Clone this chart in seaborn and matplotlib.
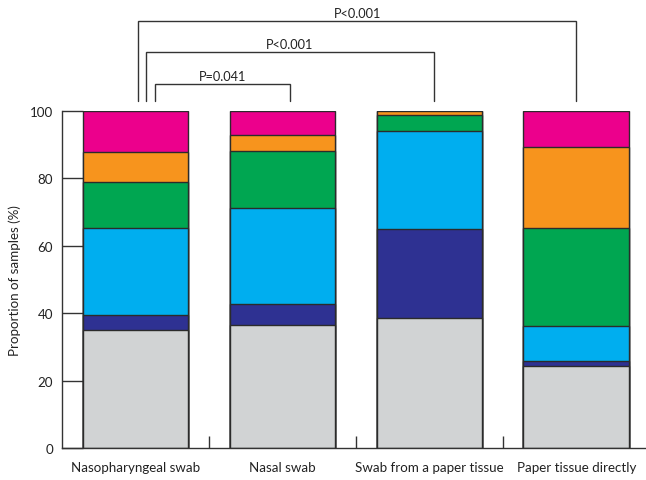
import numpy as np
import pandas as pd
import matplotlib
matplotlib.use("Agg")
import matplotlib.pyplot as plt
import seaborn as sns

# Sampling methods and the share (%) of samples in each result class
categories = ["Nasopharyngeal swab", "Nasal swab", "Swab from a paper tissue", "Paper tissue directly"]
gray_pct = [35.0, 36.5, 38.6, 24.2]
navy_pct = [4.4, 6.1, 26.3, 1.6]
blue_pct = [25.7, 28.7, 29.1, 10.5]
green_pct = [13.7, 16.8, 4.6, 29.0]
orange_pct = [9.1, 4.6, 1.4, 24.0]
pink_pct = [12.1, 7.3, 0.0, 10.7]

layer_names = ["gray", "navy", "blue", "green", "orange", "pink"]
layer_colors = ["#D1D3D4", "#2E3192", "#00AEEF", "#00A651", "#F7941D", "#EC008C"]
yticks = [0, 20, 40, 60, 80, 100]

# Pairwise comparisons: (left bar, right bar, label)
comparisons = [
    (0, 1, "P=0.041"),
    (0, 2, "P<0.001"),
    (0, 3, "P<0.001"),
]

sns.set_theme(style="white")
plt.rcParams["font.family"] = ["Lato", "DejaVu Sans"]

layers = np.array([gray_pct, navy_pct, blue_pct, green_pct, orange_pct, pink_pct])
tops = np.cumsum(layers, axis=0)

fig = plt.figure(figsize=(6.46, 4.81), dpi=100)
ax = fig.add_axes([0.096, 0.0665, 0.91, 0.7013])

edge = "#2b2b2b"
# Stack by overdrawing cumulative totals from the top layer downward
for i in range(len(layer_names) - 1, -1, -1):
    df = pd.DataFrame({"method": categories, "top": tops[i]})
    sns.barplot(data=df, x="method", y="top", color=layer_colors[i], saturation=1,
                width=0.72, edgecolor=edge, linewidth=1.0, ax=ax, zorder=2 + (5 - i) * 0.01)

ax.set_xlim(-0.5, 3.5)
ax.set_ylim(0, 100)
ax.set_xlabel("")
ax.set_ylabel("Proportion of samples (%)", fontsize=9.6, color="#222222", labelpad=6)

ax.set_yticks(yticks)
ax.set_yticklabels([str(v) for v in yticks], fontsize=9.6, color="#222222")
ax.tick_params(axis="y", direction="in", length=15, width=1.0, color="#333333", pad=6.5, left=True)

ax.set_xticks(range(len(categories)))
ax.set_xticklabels(categories, fontsize=9.6, color="#222222")
ax.tick_params(axis="x", which="major", length=0, pad=9)
ax.set_xticks([0.5, 1.5, 2.5], minor=True)
ax.tick_params(axis="x", which="minor", direction="in", length=9, width=1.0, color="#333333", bottom=True)

for side in ["top", "right"]:
    ax.spines[side].set_visible(False)
for side in ["left", "bottom"]:
    ax.spines[side].set_visible(True)
    ax.spines[side].set_color("#333333")
    ax.spines[side].set_linewidth(1.0)

# Significance brackets above the bars
bracket_specs = [
    # (left offset, right offset, height)
    (0.136, 0.05, 107.9),
    (0.07, 0.03, 117.5),
    (0.02, 0.0, 126.6),
]
for (a, b, label), (lo, ro, h) in zip(comparisons, bracket_specs):
    x1, x2 = a + lo, b + ro
    ax.plot([x1, x1, x2, x2], [102.8, h, h, 102.8], color="#333333", lw=1.0,
            clip_on=False, solid_joinstyle="miter")
    ax.text((x1 + x2) / 2, h + 0.5, label, ha="center", va="bottom",
            fontsize=9.2, color="#222222", clip_on=False)

fig.savefig("out.png", dpi=100)
